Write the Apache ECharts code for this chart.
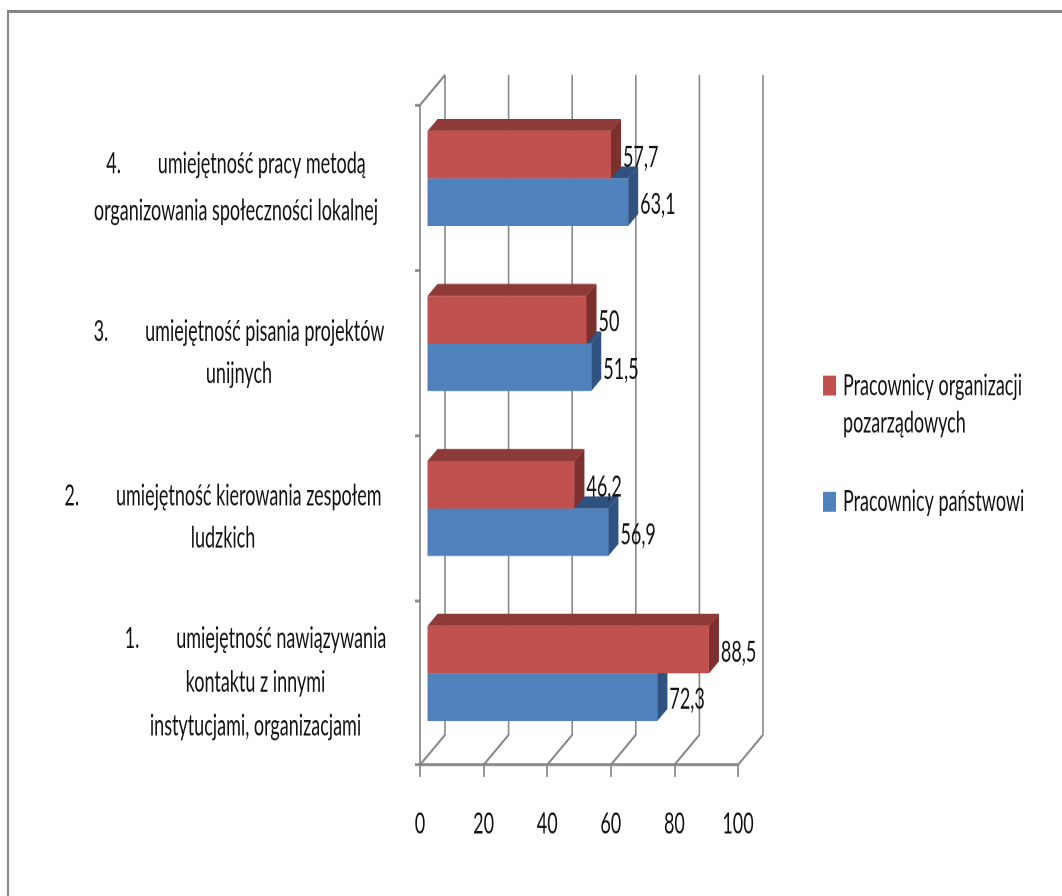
<!DOCTYPE html>
<html>
<head>
<meta charset="utf-8">
<style>
  html, body { margin: 0; padding: 0; background: #fff; overflow: hidden; width: 1062px; height: 896px; }
  #frame { position: absolute; left: 7px; top: 10px; right: -10px; bottom: -10px; border-left: 2px solid #868686; border-top: 3px solid #868686; }
  #chart { position: absolute; left: 0; top: 0; width: 1062px; transform-origin: 0 0; }
</style>
</head>
<body>
<div id="frame"></div>
<div id="chart"></div>
<script src="https://cdn.jsdelivr.net/npm/echarts@6/dist/echarts.min.js"></script>
<script>
// Chart values
const categories = [
  ['1.        umiejętność nawiązywania', 'kontaktu z innymi', 'instytucjami, organizacjami'],
  ['2.        umiejętność kierowania zespołem', 'ludzkich'],
  ['3.        umiejętność pisania projektów', 'unijnych'],
  ['4.        umiejętność pracy metodą', 'organizowania społeczności lokalnej']
];
const publicStaff = [72.3, 56.9, 51.5, 63.1];
const ngoStaff = [88.5, 46.2, 50, 57.7];
const valueTicks = [0, 20, 40, 60, 80, 100];
const ngoName = ['Pracownicy organizacji', 'pozarządowych'];
const publicName = 'Pracownicy państwowi';

// The whole drawing is laid out squat and stretched upward by this factor,
// which gives the tall, narrow lettering.
const STRETCH = 1.62;
const sy = (y) => y / STRETCH;

const FONT_FAMILY = 'Lato';
const FONT_SIZE = 18;
const TEXT_COLOR = '#111';
const AXIS_COLOR = '#868686';

// Depth of the 3D box, and where the bars sit inside it
const DEPTH_X = 25, DEPTH_Y = sy(30);
const BAR_FRONT = 0.3, BAR_DEPTH = 0.4;
const BAR_SHARE = 0.288;

const labelWidths = [295, 360, 328, 334];
const labelLineHeights = [27, 26, 26, 29];

const el = document.getElementById('chart');
el.style.height = sy(896) + 'px';
el.style.transform = 'scale(1,' + STRETCH + ')';
const chart = echarts.init(el, null, { renderer: 'canvas', devicePixelRatio: 2 });

const richStyles = {};
categories.forEach((_, i) => {
  richStyles['c' + i] = {
    width: labelWidths[i], align: 'center', lineHeight: labelLineHeights[i],
    fontFamily: FONT_FAMILY, fontSize: FONT_SIZE, color: TEXT_COLOR
  };
});

function wallItem(params, api) {
  const v = api.value(0);
  const bottom = api.coord([v, 0]);
  const gridTop = params.coordSys.y;
  const gridBottom = gridTop + params.coordSys.height;
  const x = bottom[0];
  const style = { stroke: AXIS_COLOR, lineWidth: 1.6, fill: null };
  const kids = [
    { type: 'polyline', style, silent: true, shape: { points: [
      [x, gridBottom], [x + DEPTH_X, gridBottom - DEPTH_Y], [x + DEPTH_X, gridTop - DEPTH_Y]
    ] } }
  ];
  if (v === 0) {
    kids.push({ type: 'line', style, silent: true, shape: {
      x1: x, y1: gridTop, x2: x + DEPTH_X, y2: gridTop - DEPTH_Y
    } });
  }
  return { type: 'group', children: kids };
}

function barRenderer(front, top, side, below) {
  return function (params, api) {
    const v = api.value(0), c = api.value(1);
    const end = api.coord([v, c]);
    const start = api.coord([0, c]);
    const band = api.size([0, 1])[1];
    const h = band * BAR_SHARE;
    const ox = DEPTH_X * BAR_FRONT, oy = -DEPTH_Y * BAR_FRONT;
    const dx = DEPTH_X * BAR_DEPTH, dy = -DEPTH_Y * BAR_DEPTH;
    const x0 = start[0] + ox, x1 = end[0] + ox;
    const y0 = end[1] + oy + (below ? 0 : -h), y1 = y0 + h;
    return {
      type: 'group',
      children: [
        { type: 'polygon', silent: true, shape: { points: [[x0, y0], [x1, y0], [x1 + dx, y0 + dy], [x0 + dx, y0 + dy]] }, style: { fill: top } },
        { type: 'polygon', silent: true, shape: { points: [[x1, y0], [x1 + dx, y0 + dy], [x1 + dx, y1 + dy], [x1, y1]] }, style: { fill: side } },
        { type: 'rect', silent: true, shape: { x: x0, y: y0, width: x1 - x0, height: h }, style: { fill: front } },
        { type: 'text', silent: true, z2: 50, style: {
          x: x1 + dx + 2, y: (y0 + y1) / 2 + sy(2.5),
          text: String(v).replace('.', ','),
          fill: TEXT_COLOR, font: FONT_SIZE + 'px ' + FONT_FAMILY,
          textAlign: 'left', textVerticalAlign: 'middle'
        } }
      ]
    };
  };
}

chart.setOption({
  animation: false,
  backgroundColor: 'transparent',
  grid: { left: 420, right: 1062 - 738, top: sy(105), bottom: sy(896 - 765), containLabel: false },
  xAxis: {
    type: 'value', min: 0, max: 100, interval: 20,
    splitLine: { show: false },
    axisLine: { show: true, lineStyle: { color: AXIS_COLOR, width: 1.7 } },
    axisTick: { show: true, length: sy(12), lineStyle: { color: AXIS_COLOR, width: 1.7 } },
    axisLabel: { color: TEXT_COLOR, fontFamily: FONT_FAMILY, fontSize: FONT_SIZE, margin: sy(45) }
  },
  yAxis: {
    type: 'category',
    data: categories.map((lines) => lines.join(' ')),
    axisLine: { show: true, onZero: false, lineStyle: { color: AXIS_COLOR, width: 1.7 } },
    axisTick: { show: true, length: 5, lineStyle: { color: AXIS_COLOR, width: 1.7 } },
    axisLabel: {
      margin: 17, align: 'right', interval: 0,
      formatter: (value, index) => categories[index].map((l) => '{c' + index + '|' + l + '}').join('\n'),
      rich: richStyles
    }
  },
  legend: {
    orient: 'vertical', left: 823, top: sy(371), padding: 0,
    itemWidth: 13, itemHeight: sy(20), itemGap: sy(87), icon: 'rect',
    data: [ngoName.join(' '), publicName],
    formatter: (name) => name === publicName ? publicName : ngoName[0],
    textStyle: { color: TEXT_COLOR, fontFamily: FONT_FAMILY, fontSize: FONT_SIZE, padding: [0, 0, 0, 2] }
  },
  graphic: [{
    type: 'text', left: 843, top: sy(426) - 11,
    style: { text: ngoName[1], fill: TEXT_COLOR, font: FONT_SIZE + 'px ' + FONT_FAMILY }
  }],
  series: [
    { type: 'custom', z: 1, coordinateSystem: 'cartesian2d', data: valueTicks.map((v) => [v, 0]), renderItem: wallItem, encode: { x: 0, y: 1 } },
    {
      type: 'custom', name: publicName, z: 2, itemStyle: { color: '#4F81BD' },
      data: publicStaff.map((v, i) => [v, i]), encode: { x: 0, y: 1 },
      renderItem: barRenderer('#4F81BD', '#2F5280', '#2F5280', true)
    },
    {
      type: 'custom', name: ngoName.join(' '), z: 3, itemStyle: { color: '#C0504D' },
      data: ngoStaff.map((v, i) => [v, i]), encode: { x: 0, y: 1 },
      renderItem: barRenderer('#C0504D', '#8E3A38', '#7B302E', false)
    }
  ]
});
</script>
</body>
</html>
